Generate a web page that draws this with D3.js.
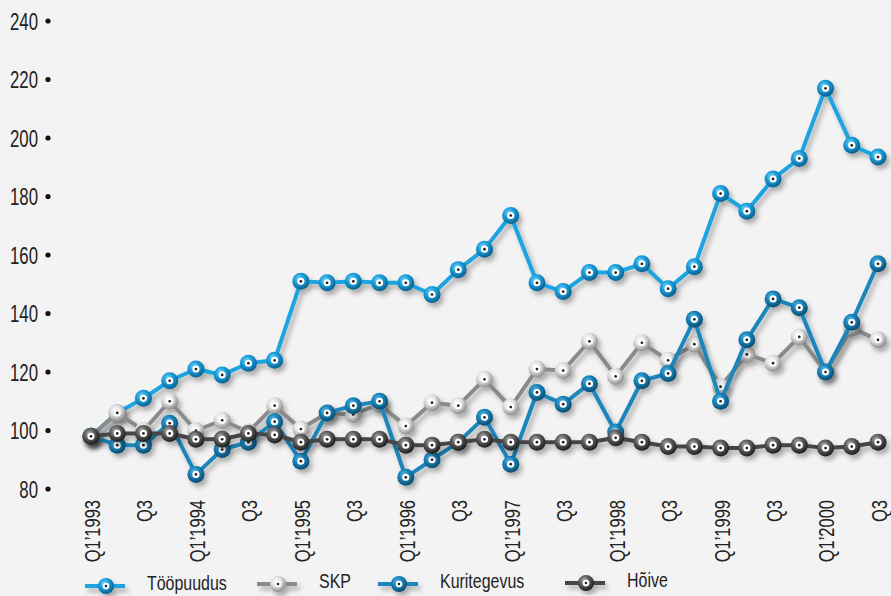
<!DOCTYPE html>
<html lang="et">
<head>
<meta charset="UTF-8">
<title>Indeksid</title>
<script src="https://d3js.org/d3.v7.min.js"></script>
<style>
    body { margin: 0; background: #f3f3f3; }
    text { font-family: "Liberation Sans Narrow", "Liberation Sans", sans-serif; fill: #222; }
</style>
</head>
<body>
<svg id="chart" width="891" height="596"></svg>
<script>
    // quarters Q1'1993 .. Q3'2000
    var quarters = [];
    for (var yr = 1993; yr <= 2000; yr++) {
        for (var q = 1; q <= 4; q++) {
            if (yr == 2000 && q > 3) break;
            quarters.push("Q" + q + "\u2019" + yr);
        }
    }
    var tickLabels = ["Q1\u20191993", "Q3", "Q1\u20191994", "Q3", "Q1\u20191995", "Q3", "Q1\u20191996", "Q3",
        "Q1\u20191997", "Q3", "Q1\u20191998", "Q3", "Q1\u20191999", "Q3", "Q1\u20192000", "Q3"];
    var yTicks = [80, 100, 120, 140, 160, 180, 200, 220, 240];

    var toopuudus = [98, 106, 111, 117, 121, 119, 123, 124, 151, 150.5, 151, 150.5, 150.5, 146.5, 155, 162,
        173.5, 150.5, 147.5, 154, 154, 157, 148.5, 156, 181, 175, 186, 193, 217, 197.5, 193.5];
    var skp = [98, 106, 100, 110, 100, 103.5, 99.5, 108.5, 100.5, 106, 105.5, 109, 101.5, 109.5, 108.5, 117.5,
        108, 121, 120.5, 130.5, 118.5, 130, 124, 129.5, 115, 126, 123, 132, 120, 135, 131];
    var kuritegevus = [98, 95, 95, 102.5, 85, 93.5, 96, 103, 89.5, 106, 108.5, 110, 84, 90, 96, 104.5,
        88.5, 113, 109, 116, 99.5, 117, 119.5, 138, 110, 131, 145, 142, 120, 137, 157];
    var hoive = [98, 99, 99, 99, 97, 97, 99, 98.5, 96, 97, 97, 97, 95, 95, 96, 97,
        96, 96, 96, 96, 97.5, 96, 94.5, 94.5, 94, 94, 95, 95, 94, 94.5, 96];

    var series = [
        { name: "Tööpuudus", values: toopuudus, line: "#1ba3e0", ball: ["#7fd3f7", "#1aa0dd", "#0a5f8e"] },
        { name: "SKP", values: skp, line: "#8a8a8a", ball: ["#ffffff", "#e2e2e2", "#8d8d8d"] },
        { name: "Kuritegevus", values: kuritegevus, line: "#1d86bb", ball: ["#5fb6e2", "#1a84bb", "#0b4c70"] },
        { name: "Hõive", values: hoive, line: "#454545", ball: ["#b5b5b5", "#5e5e5e", "#1e1e1e"] }
    ];

    var svg = d3.select("#chart");
    var x = d3.scalePoint().domain(quarters).range([91, 878]);
    var y = d3.scaleLinear().domain([80, 240]).range([489, 21]);

    var defs = svg.append("defs");
    var shadow = defs.append("filter").attr("id", "shadow")
        .attr("x", "-20%").attr("y", "-20%").attr("width", "140%").attr("height", "140%");
    shadow.append("feDropShadow").attr("dx", 3).attr("dy", 4).attr("stdDeviation", 2.5)
        .attr("flood-color", "#000").attr("flood-opacity", 0.3);

    series.forEach(function(s, i) {
        var g = defs.append("radialGradient").attr("id", "ball" + i)
            .attr("cx", "40%").attr("cy", "35%").attr("r", "65%");
        g.append("stop").attr("offset", "0%").attr("stop-color", s.ball[0]);
        g.append("stop").attr("offset", "45%").attr("stop-color", s.ball[1]);
        g.append("stop").attr("offset", "100%").attr("stop-color", s.ball[2]);
    });

    // y axis: labels and dots
    var yAxis = svg.append("g");
    yAxis.selectAll("text").data(yTicks).enter().append("text")
        .attr("transform", function(d) { return "translate(38," + y(d) + ") scale(0.7,1)"; })
        .attr("dy", "0.36em")
        .attr("text-anchor", "end")
        .attr("font-size", "24px")
        .text(function(d) { return d; });
    yAxis.selectAll("circle").data(yTicks).enter().append("circle")
        .attr("cx", 48).attr("cy", function(d) { return y(d); })
        .attr("r", 2.6).attr("fill", "#111");

    // x axis labels, every second quarter
    var tickQuarters = quarters.filter(function(d, i) { return i % 2 == 0; });
    svg.append("g").selectAll("text").data(tickQuarters).enter().append("text")
        .attr("transform", function(d) { return "translate(" + (x(d) + 1) + ",500) rotate(-90) scale(0.75,1)"; })
        .attr("dy", "0.36em")
        .attr("text-anchor", "end")
        .attr("font-size", "22px")
        .text(function(d, i) { return tickLabels[i]; });

    var line = d3.line()
        .x(function(d, i) { return x(quarters[i]); })
        .y(function(d) { return y(d); });

    function drawBall(sel, idx, r) {
        sel.append("circle").attr("r", r).attr("fill", "url(#ball" + idx + ")");
        sel.append("circle").attr("r", r * 0.42).attr("fill", "#fff");
        sel.append("circle").attr("r", r * 0.16).attr("fill", "#222");
    }

    series.forEach(function(s, i) {
        var g = svg.append("g").attr("filter", "url(#shadow)");
        g.append("path")
            .attr("d", line(s.values))
            .attr("fill", "none")
            .attr("stroke", s.line)
            .attr("stroke-width", 4)
            .attr("stroke-linejoin", "round");
        var pts = g.selectAll("g.pt").data(s.values).enter().append("g")
            .attr("class", "pt")
            .attr("transform", function(d, j) { return "translate(" + x(quarters[j]) + "," + y(d) + ")"; });
        drawBall(pts, i, 8.5);
    });

    // legend
    var legendX = [85, 257, 378, 565];
    var legendY = [586, 584, 584, 583];
    var legend = svg.append("g");
    series.forEach(function(s, i) {
        var lg = legend.append("g").attr("transform", "translate(" + legendX[i] + "," + legendY[i] + ")")
            .attr("filter", "url(#shadow)");
        lg.append("line").attr("x1", 0).attr("x2", 40).attr("y1", 0).attr("y2", 0)
            .attr("stroke", s.line).attr("stroke-width", 4);
        drawBall(lg.append("g").attr("transform", "translate(21,0)"), i, 8);
        legend.append("text")
            .attr("transform", "translate(" + (legendX[i] + 62) + "," + (legendY[i] + 4) + ") scale(0.76,1)")
            .attr("font-size", "21px")
            .text(s.name);
    });
</script>
</body>
</html>
